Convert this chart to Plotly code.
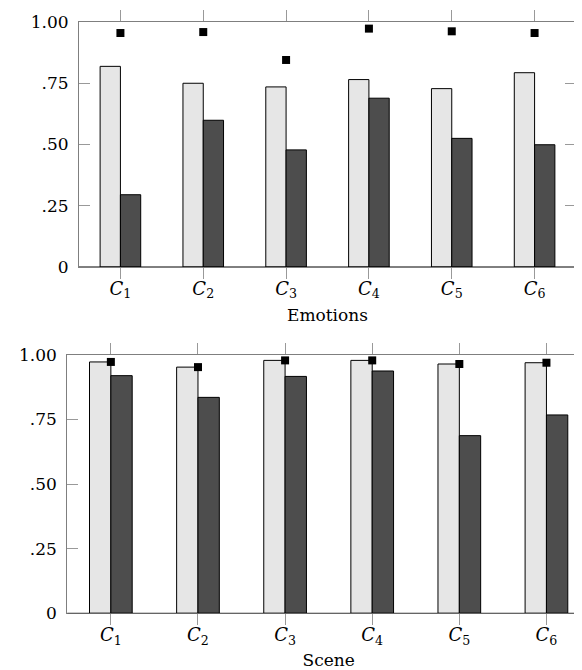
import plotly.graph_objects as go

categories = ["<i>C</i><sub>1</sub>", "<i>C</i><sub>2</sub>", "<i>C</i><sub>3</sub>",
              "<i>C</i><sub>4</sub>", "<i>C</i><sub>5</sub>", "<i>C</i><sub>6</sub>"]

emo_light = [0.819, 0.750, 0.735, 0.765, 0.728, 0.793]
emo_dark = [0.295, 0.599, 0.478, 0.689, 0.525, 0.499]
emo_marker = [0.955, 0.959, 0.845, 0.973, 0.962, 0.955]

scene_light = [0.972, 0.952, 0.978, 0.978, 0.964, 0.969]
scene_dark = [0.919, 0.835, 0.916, 0.937, 0.687, 0.767]
scene_marker = [0.972, 0.952, 0.978, 0.978, 0.964, 0.969]

y_tickvals = [0, 0.25, 0.5, 0.75, 1.0]
y_ticktext = ["0", ".25", ".50", ".75", "1.00"]

W, H = 582, 670
FONT = "DejaVu Serif"
FS = 17
LIGHT = "#e6e6e6"
DARK = "#4d4d4d"
FRAME = "#7f7f7f"
TICK = "#999999"

fig = go.Figure()

def add_panel(light, dark, marker, xa, ya):
    fig.add_trace(go.Bar(x=categories, y=light, xaxis=xa, yaxis=ya,
                         marker=dict(color=LIGHT, line=dict(color="black", width=1)),
                         showlegend=False, offsetgroup="a"))
    fig.add_trace(go.Bar(x=categories, y=dark, xaxis=xa, yaxis=ya,
                         marker=dict(color=DARK, line=dict(color="black", width=1)),
                         showlegend=False, offsetgroup="b"))
    fig.add_trace(go.Scatter(x=categories, y=marker, xaxis=xa, yaxis=ya, mode="markers",
                             marker=dict(symbol="square", size=8, color="black"),
                             showlegend=False, cliponaxis=False))

add_panel(emo_light, emo_dark, emo_marker, "x", "y")
add_panel(scene_light, scene_dark, scene_marker, "x2", "y2")

def xax(domain, anchor, title, standoff):
    return dict(domain=domain, anchor=anchor, type="category", range=[-0.5, 5.5],
                automargin=False,
                showline=True, linecolor=FRAME, linewidth=1, mirror="ticks",
                ticks="outside", ticklen=11, tickcolor=TICK, tickwidth=1,
                showgrid=False, zeroline=False,
                tickfont=dict(family=FONT, size=FS + 1, color="black"),
                ticklabelstandoff=-6,
                title=dict(text=title, font=dict(family=FONT, size=FS, color="black"),
                           standoff=standoff))

def yax(domain, anchor):
    return dict(domain=domain, anchor=anchor, range=[0, 1], automargin=False,
                tickvals=y_tickvals, ticktext=y_ticktext,
                showline=True, linecolor=FRAME, linewidth=1, mirror="ticks",
                ticks="inside", ticklen=11, tickcolor=TICK, tickwidth=1,
                showgrid=False, zeroline=False,
                tickfont=dict(family=FONT, size=FS, color="black"),
                ticklabelstandoff=6)

fig.update_layout(
    width=W, height=H,
    margin=dict(l=0, r=0, t=0, b=0, autoexpand=False),
    plot_bgcolor="white", paper_bgcolor="white",
    barmode="group", bargap=0.51, bargroupgap=0,
    xaxis=xax([71 / W, 568 / W], "y", "Emotions", 8),
    yaxis=yax([1 - 259 / H, 1 - 14 / H], "x"),
    xaxis2=xax([59.3 / W, 1.0], "y2", "Scene", 7),
    yaxis2=yax([1 - 605.3 / H, 1 - 346.7 / H], "x2"),
    shapes=[
        dict(type="line", xref="x domain", yref="y", x0=0, x1=1, y0=0, y1=0,
             line=dict(color="black", width=1)),
        dict(type="line", xref="x2 domain", yref="y2", x0=0, x1=1, y0=0, y1=0,
             line=dict(color="black", width=1)),
    ],
)

fig.write_html("out.html")
